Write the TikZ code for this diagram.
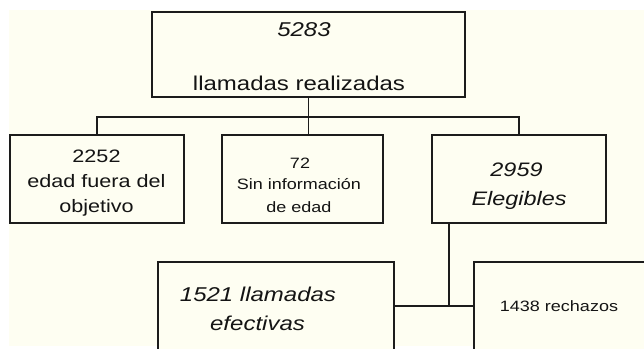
\documentclass[tikz,border=0pt]{standalone}
\usepackage{fontspec}
\setmainfont{Liberation Sans}[FakeStretch=1.2]
\definecolor{cream}{RGB}{254,254,242}
\definecolor{linec}{RGB}{28,28,28}
\begin{document}
\begin{tikzpicture}[x=1pt,y=-1pt,
  box/.style={draw=linec,line width=1.8pt,fill=cream,inner sep=0pt},
  lbl/.style={anchor=base,inner sep=0pt,text=black!92},
  conn/.style={draw=linec,line width=1.8pt},
  fa/.style={font=\fontsize{20}{24}\selectfont},
  fb/.style={font=\fontsize{18}{22}\selectfont},
  fc/.style={font=\fontsize{15}{18}\selectfont},
  fd/.style={font=\fontsize{19.5}{23}\selectfont\itshape},
  fe/.style={font=\fontsize{20}{24}\selectfont\itshape}]
\useasboundingbox (0,0) rectangle (644,348);
\clip (0,0) rectangle (644,348);
\fill[cream] (9,10) rectangle (644,346);
% boxes
\node[box,minimum width=313pt,minimum height=85pt] (top) at (308.5,54.5) {};
\node[box,minimum width=174pt,minimum height=88pt] (b1) at (97,179) {};
\node[box,minimum width=161pt,minimum height=88pt] (b2) at (302.5,179) {};
\node[box,minimum width=174pt,minimum height=88pt] (b3) at (519,179) {};
\node[box,minimum width=236pt,minimum height=110pt] (b4) at (276,317) {};
\node[box,minimum width=226pt,minimum height=110pt] (b5) at (587,317) {};
% connectors
\coordinate (hl) at (97,117);
\coordinate (k) at (449,306);
\draw[conn] (top.south) -- (top.south |- b2.north);
\draw[conn] (b1.north) -- (b1.north |- hl) -- (b3.north |- hl) -- (b3.north);
\draw[conn] (k |- b3.south) -- (k);
\draw[conn] (b4.east |- k) -- (b5.west |- k);
% texts
\node[lbl,fe] (t1) at (304,36) {5283};
\node[lbl,fa] (t2) at (299,90) {llamadas realizadas};
\node[lbl,fb] (t3) at (96.5,162) {2252};
\node[lbl,fb] (t4) at (96.5,187) {edad fuera del};
\node[lbl,fb] (t5) at (96.5,212) {objetivo};
\node[lbl,fc] (t6) at (300,168) {72};
\node[lbl,fc] (t7) at (299,189) {Sin información};
\node[lbl,fc] (t8) at (299,212) {de edad};
\node[lbl,fd] (t9) at (516.5,176) {2959};
\node[lbl,fd] (t10) at (519,205) {Elegibles};
\node[lbl,fe] (t11) at (258,301) {1521 llamadas};
\node[lbl,fe] (t12) at (257.5,330) {efectivas};
\node[lbl,fc] (t13) at (559,311) {1438 rechazos};
\end{tikzpicture}
\end{document}
